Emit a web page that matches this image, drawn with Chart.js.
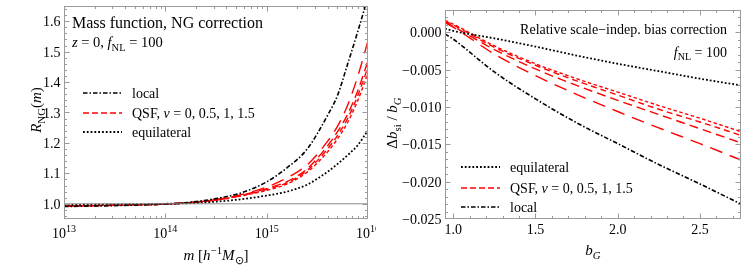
<!DOCTYPE html>
<html>
<head>
<meta charset="utf-8">
<script src="https://cdn.jsdelivr.net/npm/chart.js@4.4.1/dist/chart.umd.min.js"></script>
<style>
  html, body { margin: 0; padding: 0; background: #fff; }
  #wrap { position: relative; width: 747px; height: 269px; overflow: hidden; }
  #left { position: absolute; left: 0; top: 0; }
  #right { position: absolute; left: 376px; top: 0; }
</style>
</head>
<body>
<div id="wrap">
  <canvas id="left" width="376" height="269"></canvas>
  <canvas id="right" width="371" height="269"></canvas>
</div>
<script>
// ---- Données ----

// panneau gauche : R_NG(m) en fonction de log10 m
const log10Mass = [13, 13.5, 14, 14.25, 14.5, 14.75, 15, 15.2, 15.4, 15.6, 15.7, 15.8, 15.9, 16];
const rLocal    = [0.991, 0.994, 0.999, 1.005, 1.017, 1.036, 1.072, 1.118, 1.180, 1.290, 1.357, 1.460, 1.567, 1.680];
const rQsf15    = [0.992, 0.995, 0.999, 1.004, 1.014, 1.030, 1.055, 1.085, 1.128, 1.205, 1.255, 1.325, 1.420, 1.535];
const rQsf1     = [0.992, 0.995, 0.999, 1.004, 1.013, 1.028, 1.050, 1.073, 1.115, 1.190, 1.237, 1.295, 1.372, 1.470];
const rQsf05    = [0.993, 0.995, 0.999, 1.004, 1.012, 1.027, 1.047, 1.069, 1.110, 1.180, 1.225, 1.281, 1.356, 1.450];
const rQsf0     = [0.993, 0.996, 0.999, 1.004, 1.012, 1.026, 1.044, 1.065, 1.104, 1.170, 1.214, 1.268, 1.340, 1.430];
const rEquil    = [0.996, 0.998, 1.000, 1.002, 1.007, 1.015, 1.027, 1.040, 1.063, 1.105, 1.131, 1.160, 1.193, 1.242];

const massTicks = [13, 14, 15, 16];
const massTickLabels = ['10^{13}', '10^{14}', '10^{15}', '10^{16}'];
const rTicks = [1.0, 1.1, 1.2, 1.3, 1.4, 1.5, 1.6];
const rTickLabels = ['1.0', '1.1', '1.2', '1.3', '1.4', '1.5', '1.6'];

// panneau droit : Δb_si / b_G en fonction de b_G
const bG        = [0.95, 1.0, 1.25, 1.5, 1.75, 2.0, 2.25, 2.5, 2.75];
const dbEquil   = [0.0005, 0.0002, -0.0008, -0.0019, -0.0031, -0.0042, -0.0052, -0.0062, -0.0071];
const dbQsf0    = [0.0016, 0.0011, -0.0018, -0.0042, -0.0062, -0.0080, -0.0098, -0.0115, -0.0133];
const dbQsf05   = [0.0015, 0.0010, -0.0020, -0.0044, -0.0065, -0.0084, -0.0103, -0.0120, -0.0138];
const dbQsf1    = [0.0014, 0.0008, -0.0023, -0.0049, -0.0071, -0.0091, -0.0110, -0.0129, -0.0148];
const dbQsf15   = [0.0013, 0.0007, -0.0029, -0.0058, -0.0083, -0.0106, -0.0128, -0.0149, -0.0171];
const dbLocal   = [-0.0002, -0.0009, -0.0053, -0.0089, -0.0121, -0.0149, -0.0177, -0.0203, -0.0230];

const bTicks = [1.0, 1.5, 2.0, 2.5];
const bTickLabels = ['1.0', '1.5', '2.0', '2.5'];
const dbTicks = [0, -0.005, -0.010, -0.015, -0.020, -0.025];
const dbTickLabels = ['0.000', '\u22120.005', '\u22120.010', '\u22120.015', '\u22120.020', '\u22120.025'];

// ---- Styles ----
const SERIF = '"Liberation Serif", "Times New Roman", serif';
const FRAME = '#9a9a9a';
const RED = '#ff0000';
const DASH_LOCAL = [4.5, 2, 1.5, 2];
const DASH_EQUIL = [1.8, 2];
const DASH_QSF = { q0: [3.5, 2.5], q05: [6, 4], q1: [9, 5], q15: [13, 8] };
const DASH_LEGEND = [6, 3];
const TICK_FONT = 14;

function pts(xs, ys) {
    return xs.map((x, i) => ({ x: x, y: ys[i] }));
}

function serie(xs, ys, color, dash, width) {
    return {
        data: pts(xs, ys),
        borderColor: color,
        borderDash: dash,
        borderWidth: width || 1.4,
        pointRadius: 0,
        fill: false,
        cubicInterpolationMode: 'monotone'
    };
}

// petit parseur : *italique*, _{indice}, ^{exposant}
function parseRich(str) {
    const parts = [];
    let italic = false, v = 0, buf = '';
    const push = () => { if (buf) parts.push({ t: buf, i: italic, v: v }); buf = ''; };
    for (let k = 0; k < str.length; k++) {
        const c = str[k];
        if (c === '*') { push(); italic = !italic; }
        else if ((c === '_' || c === '^') && str[k + 1] === '{') { push(); v = c === '_' ? -1 : 1; k++; }
        else if (c === '}' && v !== 0) { push(); v = 0; }
        else buf += c;
    }
    push();
    return parts;
}

function fontFor(p, size) {
    return (p.i ? 'italic ' : '') + (p.v ? size * 0.72 : size) + 'px ' + SERIF;
}

// y = ligne de base
function drawRich(ctx, str, x, y, size, align) {
    const parts = parseRich(str);
    let w = 0;
    parts.forEach(p => { ctx.font = fontFor(p, size); w += ctx.measureText(p.t).width; });
    let cx = align === 'center' ? x - w / 2 : align === 'right' ? x - w : x;
    ctx.textAlign = 'left';
    ctx.textBaseline = 'alphabetic';
    parts.forEach(p => {
        ctx.font = fontFor(p, size);
        const dy = p.v === -1 ? size * 0.26 : p.v === 1 ? -size * 0.4 : 0;
        ctx.fillText(p.t, cx, y + dy);
        cx += ctx.measureText(p.t).width;
    });
}

function range(a, b, step) {
    const out = [];
    for (let v = a; v <= b + step / 1000; v += step) out.push(Math.round(v * 1e6) / 1e6);
    return out;
}

// cadre, graduations intérieures, textes et légende
function makeDeco(spec) {
    return {
        id: 'deco',
        afterDraw(chart) {
            const ctx = chart.ctx, a = chart.chartArea;
            const xs = chart.scales.x, ys = chart.scales.y;
            ctx.save();
            ctx.setLineDash([]);
            ctx.strokeStyle = FRAME;
            ctx.lineWidth = 1;
            const L = Math.round(a.left) + 0.5, R = Math.round(a.right) - 0.5;
            const T = Math.round(a.top) + 0.5, B = Math.round(a.bottom) - 0.5;
            ctx.strokeRect(L, T, R - L, B - T);

            ctx.beginPath();
            const tickX = (vals, len) => vals.forEach(v => {
                const px = Math.round(xs.getPixelForValue(v)) + 0.5;
                if (px < L || px > R) return;
                ctx.moveTo(px, B); ctx.lineTo(px, B - len);
                ctx.moveTo(px, T); ctx.lineTo(px, T + len);
            });
            const tickY = (vals, len) => vals.forEach(v => {
                const py = Math.round(ys.getPixelForValue(v)) + 0.5;
                if (py < T || py > B) return;
                ctx.moveTo(L, py); ctx.lineTo(L + len, py);
                ctx.moveTo(R, py); ctx.lineTo(R - len, py);
            });
            tickX(spec.xMajor, 5); tickX(spec.xMinor, 2.5);
            tickY(spec.yMajor, 5); tickY(spec.yMinor, 2.5);
            ctx.stroke();

            ctx.fillStyle = '#000';
            spec.xMajor.forEach((v, i) => {
                drawRich(ctx, spec.xLabels[i], xs.getPixelForValue(v), spec.xLabelY, TICK_FONT, 'center');
            });
            spec.yMajor.forEach((v, i) => {
                drawRich(ctx, spec.yLabels[i], L - 4, ys.getPixelForValue(v) + 5, TICK_FONT, 'right');
            });

            // titres d'axes
            drawRich(ctx, spec.xTitle.text, spec.xTitle.x, spec.xTitle.y, 15, 'center');
            ctx.save();
            ctx.translate(spec.yTitle.x, spec.yTitle.y);
            ctx.rotate(-Math.PI / 2);
            drawRich(ctx, spec.yTitle.text, 0, 5, 15, 'center');
            ctx.restore();

            spec.notes.forEach(n => drawRich(ctx, n.text, n.x, n.y + n.size * 0.34, n.size, n.align));

            // légende
            spec.legend.forEach(it => {
                ctx.beginPath();
                ctx.strokeStyle = it.color;
                ctx.lineWidth = it.width;
                ctx.setLineDash(it.dash);
                ctx.moveTo(spec.legendX[0], it.y);
                ctx.lineTo(spec.legendX[1], it.y);
                ctx.stroke();
                ctx.setLineDash([]);
                ctx.fillStyle = '#000';
                drawRich(ctx, it.text, spec.legendX[2], it.y + 5, 14, 'left');
            });
            ctx.restore();
        }
    };
}

function baseOptions(xmin, xmax, ymin, ymax, pad) {
    return {
        responsive: false,
        animation: false,
        devicePixelRatio: 1,
        events: [],
        layout: { padding: pad },
        plugins: { legend: { display: false }, tooltip: { enabled: false } },
        scales: {
            x: { type: 'linear', min: xmin, max: xmax, display: false },
            y: { type: 'linear', min: ymin, max: ymax, display: false }
        }
    };
}

// ---- Panneau gauche ----
const massMinor = [];
[13, 14, 15].forEach(n => { for (let k = 2; k <= 9; k++) massMinor.push(n + Math.log10(k)); });

new Chart(document.getElementById('left'), {
    type: 'line',
    data: {
        datasets: [
            serie([13, 16], [1, 1], '#8c8c8c', [], 1),
            serie(log10Mass, rEquil, '#000', DASH_EQUIL, 1.8),
            serie(log10Mass, rLocal, '#000', DASH_LOCAL, 1.6),
            serie(log10Mass, rQsf0, RED, DASH_QSF.q0),
            serie(log10Mass, rQsf05, RED, DASH_QSF.q05),
            serie(log10Mass, rQsf1, RED, DASH_QSF.q1),
            serie(log10Mass, rQsf15, RED, DASH_QSF.q15)
        ]
    },
    options: baseOptions(13, 16, 0.95, 1.65, { left: 64, right: 8, top: 6, bottom: 50 }),
    plugins: [makeDeco({
        xMajor: massTicks, xMinor: massMinor, xLabels: massTickLabels, xLabelY: 238,
        yMajor: rTicks, yMinor: range(0.96, 1.64, 0.02), yLabels: rTickLabels,
        xTitle: { text: '*m* [*h*^{\u22121}*M*_{\u2299}]', x: 216, y: 260 },
        yTitle: { text: '*R*_{NG}(*m*)', x: 36, y: 110 },
        notes: [
            { text: 'Mass function, NG correction', x: 72, y: 23, align: 'left', size: 16 },
            { text: '*z* = 0, *f*_{NL} = 100', x: 72, y: 42, align: 'left', size: 14.5 }
        ],
        legendX: [83, 122, 132],
        legend: [
            { text: 'local', y: 93, color: '#000', dash: DASH_LOCAL, width: 1.6 },
            { text: 'QSF, *\u03bd* = 0, 0.5, 1, 1.5', y: 113, color: RED, dash: DASH_LEGEND, width: 1.4 },
            { text: 'equilateral', y: 132, color: '#000', dash: DASH_EQUIL, width: 1.8 }
        ]
    })]
});

// ---- Panneau droit (origine du canevas : x = 376) ----
new Chart(document.getElementById('right'), {
    type: 'line',
    data: {
        datasets: [
            serie(bG, dbEquil, '#000', DASH_EQUIL, 1.8),
            serie(bG, dbLocal, '#000', DASH_LOCAL, 1.6),
            serie(bG, dbQsf0, RED, DASH_QSF.q0),
            serie(bG, dbQsf05, RED, DASH_QSF.q05),
            serie(bG, dbQsf1, RED, DASH_QSF.q1),
            serie(bG, dbQsf15, RED, DASH_QSF.q15)
        ]
    },
    options: baseOptions(0.95, 2.75, -0.025, 0.003, { left: 69, right: 6, top: 10, bottom: 50 }),
    plugins: [makeDeco({
        xMajor: bTicks, xMinor: range(1.0, 2.7, 0.1), xLabels: bTickLabels, xLabelY: 234,
        yMajor: dbTicks, yMinor: range(-0.025, 0.002, 0.001), yLabels: dbTickLabels,
        xTitle: { text: '*b*_{*G*}', x: 217, y: 255 },
        yTitle: { text: '\u0394*b*_{si} / *b*_{*G*}', x: 16, y: 123 },
        notes: [
            { text: 'Relative scale\u2212indep. bias correction', x: 351, y: 29, align: 'right', size: 14 },
            { text: '*f*_{NL} = 100', x: 351, y: 52, align: 'right', size: 14 }
        ],
        legendX: [85, 124, 134],
        legend: [
            { text: 'equilateral', y: 167, color: '#000', dash: DASH_EQUIL, width: 1.8 },
            { text: 'QSF, *\u03bd* = 0, 0.5, 1, 1.5', y: 188, color: RED, dash: DASH_LEGEND, width: 1.4 },
            { text: 'local', y: 207, color: '#000', dash: DASH_LOCAL, width: 1.6 }
        ]
    })]
});
</script>
</body>
</html>
